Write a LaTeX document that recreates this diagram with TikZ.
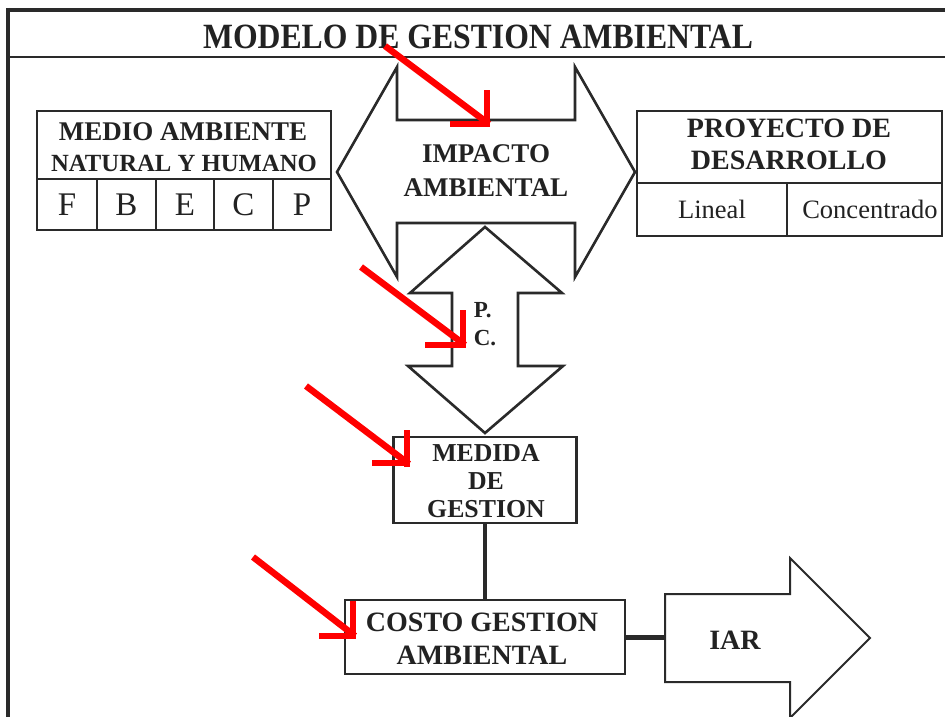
\documentclass[tikz,border=0pt]{standalone}
\usepackage{fontspec}
\setmainfont{Liberation Serif}
\definecolor{ink}{HTML}{2A2A2A}
\definecolor{txt}{HTML}{222222}
\definecolor{redmark}{HTML}{FF0000}
\begin{document}
\begin{tikzpicture}[x=1pt,y=-1pt,
  shapeline/.style={draw=ink,line width=2.6pt,line join=miter},
  boxline/.style={draw=ink,line width=2.2pt},
  lbl/.style={text=txt,inner sep=0pt,align=center,font=\bfseries},
  reg/.style={text=txt,inner sep=0pt,font=\fontsize{33}{33}\selectfont},
  redline/.style={draw=redmark,line width=6.5pt},
  link/.style={draw=ink,line width=4pt}]
\useasboundingbox (0,0) rectangle (945,717);
\fill[white] (0,0) rectangle (945,717);
% frame
\draw[draw=ink,line width=4pt] (8,10) -- (945,10);
\draw[draw=ink,line width=4pt] (8,8) -- (8,717);
\draw[draw=ink,line width=2.6pt] (8,57) -- (945,57);
\node[lbl] (title) at (478,37) {\scalebox{1}[1.12]{\fontsize{31.7}{31.7}\selectfont MODELO DE GESTION AMBIENTAL}};

% big horizontal double arrow
\draw[shapeline] (337,172) -- (397,67) -- (397,120) -- (575,120) -- (575,67) -- (635,172)
  -- (575,277) -- (575,223) -- (397,223) -- (397,277) -- cycle;
\node[lbl,font=\bfseries\fontsize{27}{34}\selectfont] (impacto) at (486,171) {IMPACTO\\AMBIENTAL};

% vertical double arrow
\draw[shapeline,fill=white] (485,227) -- (562,293) -- (518,293) -- (518,366) -- (563,366) -- (485,433)
  -- (408,366) -- (452,366) -- (452,293) -- (410,293) -- cycle;
\node[lbl,font=\bfseries\fontsize{23}{28}\selectfont,align=left] (pc) at (485,324) {P.\\C.};

% medio ambiente box
\node[boxline,minimum width=294,minimum height=119,inner sep=0pt] (medio) at (184,170.5) {};
\draw[boxline] (37,179) -- (331,179);
\foreach \x in {97,156,214,273} \draw[boxline] (\x,179) -- (\x,230);
\node[lbl,font=\bfseries\fontsize{27}{27}\selectfont] (medioT1) at (183,132) {MEDIO AMBIENTE};
\node[lbl,font=\bfseries\fontsize{24.7}{24.7}\selectfont] (medioT2) at (184,163) {NATURAL Y HUMANO};
\node[reg] (cF) at (67,205) {F};
\node[reg] (cB) at (126.5,205) {B};
\node[reg] (cE) at (185,205) {E};
\node[reg] (cC) at (243.5,205) {C};
\node[reg] (cP) at (302,205) {P};

% proyecto box
\node[boxline,minimum width=305,minimum height=125,inner sep=0pt] (proy) at (789.5,173.5) {};
\draw[boxline] (637,183) -- (942,183);
\draw[boxline] (787,183) -- (787,236);
\node[lbl,font=\bfseries\fontsize{28}{32}\selectfont] (proyT) at (789,144) {PROYECTO DE\\DESARROLLO};
\node[text=txt,inner sep=0pt,font=\fontsize{26.5}{26.5}\selectfont] (lineal) at (712,209) {Lineal};
\node[text=txt,inner sep=0pt,font=\fontsize{26.5}{26.5}\selectfont] (conc) at (870,209) {Concentrado};

% medida de gestion
\node[boxline,minimum width=183,minimum height=86,inner sep=0pt] (medida) at (485,480) {};
\node[lbl,font=\bfseries\fontsize{25.8}{28}\selectfont] (medidaT) at (486,481) {MEDIDA\\DE\\GESTION};

% costo gestion ambiental
\node[boxline,minimum width=280,minimum height=74,inner sep=0pt] (costo) at (485,637) {};
\node[lbl,font=\bfseries\fontsize{28}{33}\selectfont] (costoT) at (482,638.5) {COSTO GESTION\\AMBIENTAL};

% IAR arrow
\draw[draw=ink,line width=2pt,line join=miter] (665,594) -- (790,594) -- (790,558) -- (870,638)
  -- (790,718) -- (790,682) -- (665,682) -- cycle;
\coordinate (iarW) at (665,637);
\node[lbl,font=\bfseries\fontsize{28}{28}\selectfont] (iar) at (735,640) {IAR};

% connectors
\draw[link] (medida.south) -- (costo.north);
\draw[link,line width=5pt] (costo.east |- iarW) -- (iarW);

% red marks
\draw[redline] (385,46) -- (489,124);
\draw[redline] (487,90) -- (487,127);
\draw[redline] (450,124) -- (490,124);

\draw[redline] (361,267) -- (465,345);
\draw[redline] (463,310) -- (463,348);
\draw[redline] (425,345) -- (466,345);

\draw[redline] (306,386) -- (409,464);
\draw[redline] (407,430) -- (407,467);
\draw[redline] (372,463) -- (410,463);

\draw[redline] (253,557) -- (355,636);
\draw[redline] (353,601) -- (353,639);
\draw[redline] (319,636) -- (356,636);
\end{tikzpicture}
\end{document}
